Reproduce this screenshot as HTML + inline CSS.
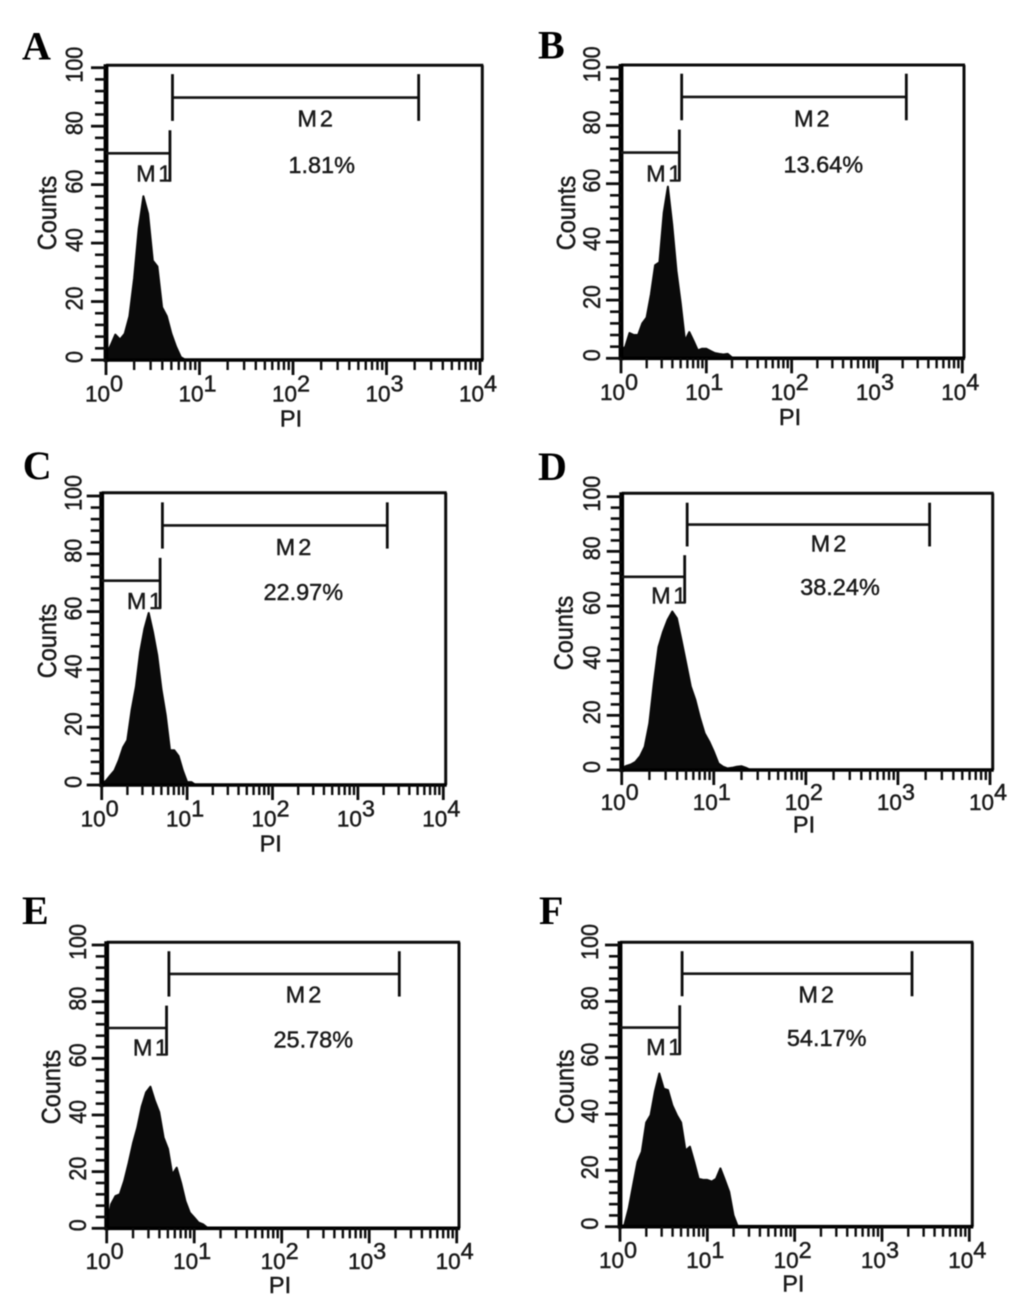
<!DOCTYPE html>
<html lang="en">
<head>
<meta charset="utf-8">
<title>Flow cytometry PI histograms</title>
<style>
  html, body { margin: 0; padding: 0; background: #fff; }
  body { width: 1033px; height: 1299px; overflow: hidden; }
  svg { display: block; filter: blur(0.45px); }
  text { font-family: "Liberation Sans", sans-serif; fill: #1a1a1a; stroke: #1a1a1a; stroke-width: 0.45px; }
  .letter { font-family: "Liberation Serif", serif; font-weight: bold; font-size: 40px; fill: #000; stroke: none; }
</style>
</head>
<body>
<svg id="figure" xmlns="http://www.w3.org/2000/svg" width="1033" height="1299" viewBox="0 0 1033 1299">
  <rect width="1033" height="1299" fill="#ffffff"/>
</svg>
<script>
// ---- chart data: histogram counts per log10(PI) bin, each bin is binWidth decades wide ----
const binWidth = 0.05;
const countsA = [2,5,8.7,7,9,15,28,45,56,50,34,32,18,15,9,4.5,1,0];
const countsB = [2.7,4,8.7,8,8,12,14,22,32,33,50,59,46,30,19,6,9,6,2.7,3.3,3.3,2.5,1.8,1.5,1.3,1.5,0.3,0];
const countsC = [0.3,1.5,3.3,5,8.5,13,15.5,26,34,46,54,59.5,53,45,33,24,12,12,10,5,1,1,0];
const countsD = [0.6,1.5,2,3,5,8.5,17,32,45,50.6,55,58,55.5,47.5,39,30.5,25.6,19,13.4,10.4,6.7,2.4,1.2,0.6,0.8,1.2,1.4,0.8,0];
const countsE = [0.8,8.5,11.4,12,16.7,23,30,35.5,43,48,50,45,41,32,28,19,21.4,16,9.6,5.5,3.8,2,1.4,0.2,0];
const countsF = [0,0.6,6.5,14.8,23,26.6,37,39.6,48,54.4,49,48.5,43,39.6,37,27,28.4,23,17,16.6,16.6,16,17,20.7,16.6,12.4,4,0];
const percentLabels = ["1.81%","13.64%","22.97%","38.24%","25.78%","54.17%"];
const panelLetters = ["A","B","C","D","E","F"];
const yTickValues = [0,20,40,60,80,100];
const yMinorStep = 4;
const xDecades = [0,1,2,3,4];
const xMinorMultiples = [2,3,4,5,6,7,8,9];
const m1Gate = [0, 0.684];       // decades
const m2Gate = [0.711, 3.344];   // decades
const m1Level = 70.7;            // counts
const m2Level = 89.8;            // counts
const m1CapRange = [61, 78.6];   // counts
const m2CapRange = [81.8, 97.8]; // counts

// ---- layout only (pixel geometry of each panel) ----
const seriesByPanel = [countsA, countsB, countsC, countsD, countsE, countsF];
const layouts = [
 {x0:106,  x4:480,   y0:360,   y100:67.7, right:482.3, top:65.3,  lx:22,  ly:59.3, m2x:316.7,m2y:126.7,m1x:155,  m1y:181.7,px:321.7,py:173,   cx:56,   cy:213,  pix:291,  piy:426.7, tly:401.7, ylx:82.7},
 {x0:621,  x4:962.3, y0:358.3, y100:67.3, right:964,   top:65,    lx:538, ly:58.3, m2x:813.3,m2y:126.7,m1x:665,  m1y:181.7,px:823.3,py:172.3, cx:575,  cy:213,  pix:790,  piy:425,   tly:400,   ylx:600},
 {x0:101.7,x4:443.3, y0:785,   y100:496,  right:445.7, top:492.7, lx:22.7,ly:479,  m2x:295,  m2y:555,  m1x:145.7,m1y:609,  px:303.3,py:600,   cx:56,   cy:641,  pix:270.7,piy:851.7, tly:826.7, ylx:81.7},
 {x0:621.7,x4:990,   y0:770,   y100:496.7,right:992.7, top:493.3, lx:538, ly:480,  m2x:830,  m2y:551.7,m1x:670,  m1y:603.3,px:840,  py:595,   cx:572.7,cy:633,  pix:804,  piy:832.7, tly:810,   ylx:600},
 {x0:106.7,x4:456.7, y0:1228.3,y100:945,  right:459,   top:942.3, lx:22,  ly:924,  m2x:305,  m2y:1002.7,m1x:151.7,m1y:1055.7,px:313.3,py:1047.3,cx:60,  cy:1087, pix:280,  piy:1293,  tly:1269,  ylx:86},
 {x0:620,  x4:969.3, y0:1226.7,y100:945,  right:972.3, top:942.3, lx:539, ly:924,  m2x:817.7,m2y:1002.3,m1x:665,  m1y:1055, px:826.7,py:1046,  cx:573.3,cy:1086.7,pix:793.3,piy:1291.7,tly:1268,  ylx:598}
];

const NS = "http://www.w3.org/2000/svg";
const INK = "#0d0d0d";
const figure = document.getElementById("figure");

function make(parent, tag, attrs, content) {
  const node = document.createElementNS(NS, tag);
  for (const key in attrs) node.setAttribute(key, attrs[key]);
  if (content !== undefined) node.textContent = content;
  parent.appendChild(node);
  return node;
}

seriesByPanel.forEach(function (counts, p) {
  const L = layouts[p];
  const id = panelLetters[p].toLowerCase();
  const xAt = function (decade) { return L.x0 + (L.x4 - L.x0) * decade / 4; };
  const yAt = function (count) { return L.y0 + (L.y100 - L.y0) * count / 100; };

  const g = make(figure, "g", {});
  
  

  const letter = make(g, "text", {x: L.lx, y: L.ly, "class": "letter"}, panelLetters[p]);
  
  

  // histogram
  let pts = [xAt(0).toFixed(1) + "," + yAt(0).toFixed(1)];
  counts.forEach(function (value, i) {
    pts.push(xAt(i * binWidth).toFixed(1) + "," + yAt(value).toFixed(1));
  });
  pts.push(xAt((counts.length - 1) * binWidth).toFixed(1) + "," + yAt(0).toFixed(1));
  const hist = make(g, "polygon", {points: pts.join(" "), fill: "#0a0a0a", stroke: "#0a0a0a", "stroke-width": 2, "stroke-linejoin": "round"});
  
  

  // frame
  const topLine = make(g, "line", {x1: L.x0, x2: L.right + 1, y1: L.top, y2: L.top, stroke: INK, "stroke-width": 3});
  
  
  const rightLine = make(g, "line", {x1: L.right, x2: L.right, y1: L.top, y2: L.y0, stroke: INK, "stroke-width": 3});
  
  
  const yAxis = make(g, "line", {x1: L.x0, x2: L.x0, y1: L.top - 1, y2: L.y0 + 2, stroke: "#000", "stroke-width": 4.8});
  
  
  const xAxis = make(g, "line", {x1: L.x0 - 1, x2: L.right + 1, y1: L.y0, y2: L.y0, stroke: "#000", "stroke-width": 3.6});
  
  

  // y ticks
  for (let v = 0; v <= 100; v += yMinorStep) {
    if (v % 20 === 0) continue;
    const minor = make(g, "line", {x1: L.x0 - 11, x2: L.x0, y1: yAt(v), y2: yAt(v), stroke: INK, "stroke-width": 2.6});
    
    
  }
  yTickValues.forEach(function (v) {
    const tick = make(g, "line", {x1: L.x0 - 15, x2: L.x0, y1: yAt(v), y2: yAt(v), stroke: INK, "stroke-width": 2.8});
    
    
    const label = make(g, "text", {
      "text-anchor": "middle", "font-size": 21.5,
      transform: "translate(" + L.ylx + "," + (yAt(v) - 3) + ") rotate(-90) scale(1,1.14)"
    }, String(v));
    
    
  });

  // x ticks
  xDecades.forEach(function (d) {
    const tick = make(g, "line", {x1: xAt(d), x2: xAt(d), y1: L.y0, y2: L.y0 + 15, stroke: INK, "stroke-width": 2.8});
    
    
    if (d < 4) {
      xMinorMultiples.forEach(function (m) {
        const pos = xAt(d + Math.log10(m));
        const minor = make(g, "line", {x1: pos, x2: pos, y1: L.y0, y2: L.y0 + 10, stroke: INK, "stroke-width": 2.4});
        
        
      });
    }
    const label = make(g, "text", {x: xAt(d) - 2, y: L.tly, "text-anchor": "middle", "font-size": 22.5}, "10");
    
    
    const exp = make(label, "tspan", {dy: -10, "font-size": 23.5}, String(d));
    
    
  });

  // axis titles
  const yTitle = make(g, "text", {
    "text-anchor": "middle", "font-size": 23.5,
    transform: "translate(" + L.cx + "," + L.cy + ") rotate(-90) scale(1,1.1)"
  }, "Counts");
  
  
  const xTitle = make(g, "text", {x: L.pix, y: L.piy, "text-anchor": "middle", "font-size": 23.5}, "PI");
  
  

  // M1 marker
  const m1Bar = make(g, "line", {x1: xAt(m1Gate[0]), x2: xAt(m1Gate[1]), y1: yAt(m1Level), y2: yAt(m1Level), stroke: "#151515", "stroke-width": 2.6});
  
  
  const m1Cap = make(g, "line", {x1: xAt(m1Gate[1]), x2: xAt(m1Gate[1]), y1: yAt(m1CapRange[0]), y2: yAt(m1CapRange[1]), stroke: "#0d0d0d", "stroke-width": 2.8});
  
  
  const m1Label = make(g, "text", {x: L.m1x, y: L.m1y, "text-anchor": "middle", "font-size": 23.5, "letter-spacing": 2.5}, "M1");
  
  

  // M2 marker
  const m2Bar = make(g, "line", {x1: xAt(m2Gate[0]), x2: xAt(m2Gate[1]), y1: yAt(m2Level), y2: yAt(m2Level), stroke: "#151515", "stroke-width": 2.6});
  
  
  m2Gate.forEach(function (gate, i) {
    const cap = make(g, "line", {x1: xAt(gate), x2: xAt(gate), y1: yAt(m2CapRange[0]), y2: yAt(m2CapRange[1]), stroke: "#0d0d0d", "stroke-width": 2.8});
    
    
  });
  const m2Label = make(g, "text", {x: L.m2x, y: L.m2y, "text-anchor": "middle", "font-size": 23.5, "letter-spacing": 3}, "M2");
  
  

  const pct = make(g, "text", {x: L.px, y: L.py, "text-anchor": "middle", "font-size": 23.5}, percentLabels[p]);
  
  
});
</script>
</body>
</html>
